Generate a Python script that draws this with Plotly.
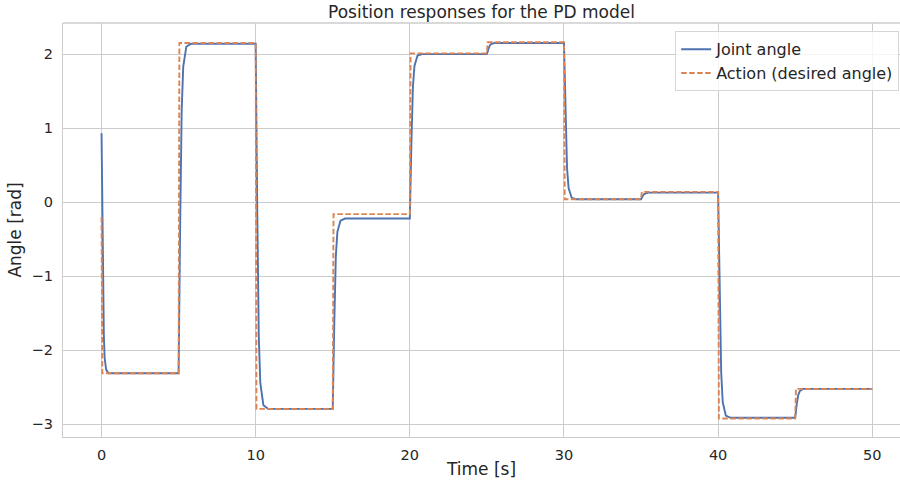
import plotly.graph_objects as go

# Action (desired angle): step changes every 5 s
action_t = [0.0, 0.05, 5.0, 5.05, 10.0, 10.05, 15.0, 15.05, 20.0, 20.05, 25.0, 25.05,
            30.0, 30.05, 35.0, 35.05, 40.0, 40.05, 45.0, 45.05, 50.0]
action_y = [-0.20, -2.31, -2.31, 2.15, 2.15, -2.79, -2.79, -0.16, -0.16, 2.01, 2.01, 2.16,
            2.16, 0.04, 0.04, 0.14, 0.14, -2.92, -2.92, -2.52, -2.52]

# Joint angle response
joint_t = [0.0, 0.05, 0.1, 0.15, 0.2, 0.3, 0.45,
           5.0, 5.1, 5.2, 5.3, 5.5, 5.8,
           10.0, 10.1, 10.2, 10.3, 10.5, 10.8,
           15.0, 15.1, 15.2, 15.3, 15.5, 15.8,
           20.0, 20.1, 20.2, 20.3, 20.5, 20.8,
           25.0, 25.1, 25.2, 25.3, 25.5,
           30.0, 30.1, 30.2, 30.3, 30.5, 30.8,
           35.0, 35.1, 35.2, 35.3, 35.5,
           40.0, 40.1, 40.2, 40.3, 40.5, 40.8,
           45.0, 45.1, 45.2, 45.3, 45.5,
           50.0]
joint_y = [0.93, -0.20, -1.20, -1.80, -2.10, -2.26, -2.31,
           -2.31, -0.31, 1.25, 1.83, 2.10, 2.14,
           2.14, -0.08, -1.80, -2.44, -2.74, -2.79,
           -2.79, -1.63, -0.73, -0.40, -0.25, -0.22,
           -0.22, 0.78, 1.56, 1.84, 1.98, 2.00,
           2.00, 2.07, 2.12, 2.14, 2.15,
           2.15, 1.20, 0.46, 0.19, 0.06, 0.04,
           0.04, 0.08, 0.11, 0.12, 0.13,
           0.13, -1.24, -2.30, -2.70, -2.88, -2.91,
           -2.91, -2.73, -2.60, -2.55, -2.52,
           -2.52]

x_ticks = [0, 10, 20, 30, 40, 50]
y_ticks = [-3, -2, -1, 0, 1, 2]
y_tick_text = ["\u22123", "\u22122", "\u22121", "0", "1", "2"]

FONT = "DejaVu Sans"
GRID = "#cccccc"
TXT = "#262626"

fig = go.Figure()
fig.add_trace(go.Scatter(x=joint_t, y=joint_y, mode="lines", name="Joint angle",
                         line=dict(color="#4c72b0", width=1.9)))
fig.add_trace(go.Scatter(x=action_t, y=action_y, mode="lines", name="Action (desired angle)",
                         line=dict(color="#dd8452", width=1.9, dash="5.5px,2.5px")))

fig.update_layout(
    width=900, height=484,
    margin=dict(l=63, r=0, t=23, b=47),
    paper_bgcolor="white", plot_bgcolor="white",
    font=dict(family=FONT, color=TXT, size=14),
    title=dict(text="Position responses for the PD model", x=0.5, xref="paper",
               xanchor="center", y=0.976, yanchor="middle",
               font=dict(size=17, family=FONT, color=TXT)),
    legend=dict(x=0.999, xanchor="right", y=0.98, yanchor="top",
                bgcolor="rgba(255,255,255,0.8)", bordercolor="#d6d6d6", borderwidth=1,
                font=dict(size=16, family=FONT, color=TXT),
                tracegroupgap=0, itemwidth=30),
    showlegend=True,
)
fig.update_xaxes(range=[-2.5, 51.8], tickvals=x_ticks, showgrid=True, gridcolor=GRID,
                 gridwidth=1.3, zeroline=False, showline=True, linecolor=GRID, linewidth=1.4,
                 ticks="", tickfont=dict(size=14.5, color=TXT), ticklabelstandoff=4,
                 title=dict(text="Time [s]", font=dict(size=17, color=TXT), standoff=1))
fig.update_yaxes(range=[-3.17, 2.42], tickvals=y_ticks, ticktext=y_tick_text, showgrid=True,
                 gridcolor=GRID, gridwidth=1.3, zeroline=False, showline=True, linecolor=GRID,
                 linewidth=1.4, ticks="", tickfont=dict(size=14.5, color=TXT), ticklabelstandoff=6,
                 title=dict(text="Angle [rad]", font=dict(size=17, color=TXT), standoff=5))
fig.add_shape(type="line", xref="paper", yref="paper", x0=0, x1=1, y0=1, y1=1,
              line=dict(color=GRID, width=1.4))

fig.write_html("out.html")
